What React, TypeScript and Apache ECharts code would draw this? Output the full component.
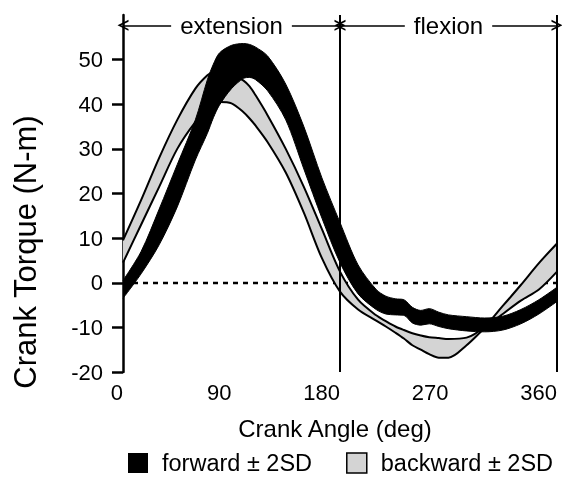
import React, { useEffect, useRef } from "react";
import * as echarts from "echarts";

// Crank angle samples (deg)
const angles = [0, 15, 30, 45, 60, 70, 75, 80, 90, 100, 105, 110, 120, 135, 150, 165, 180, 195, 210, 218, 226, 233, 240, 247, 254, 262, 270, 285, 300, 315, 330, 345, 360];

// Forward pedalling ±2SD band (N-m)
const fwdUpper = [0.5, 7, 16.5, 26.5, 36.5, 45.5, 49, 51.5, 53.2, 53.6, 53.4, 52.8, 50.8, 44.5, 35, 23.5, 13.5, 4, -1.5, -3, -3.6, -3.8, -5.5, -6.2, -5.8, -6.6, -7.2, -7.6, -7.9, -7.5, -6, -3.8, -1];
const fwdLower = [-3.5, 2, 8.5, 17, 27.5, 33.5, 37, 39.8, 43.5, 45.8, 46, 45.5, 43, 36.5, 25.5, 14.5, 4.5, -2.5, -6, -7, -7.2, -7.3, -9, -9.5, -9.2, -9.8, -10.3, -10.8, -11, -10.6, -9.2, -7, -4.2];

// Backward pedalling ±2SD band (N-m)
const bwdUpper = [9.5, 18.5, 28, 36.5, 43.5, 46.5, 47.2, 47.3, 46.8, 45.3, 44, 42, 37.5, 30, 21.5, 12, 2.5, -3.8, -7.3, -8.6, -9.8, -10.6, -11.3, -11.8, -12.2, -12.4, -12.6, -12.3, -9.8, -5.2, -0.5, 4.4, 8.8];
const bwdLower = [4.5, 13, 21.5, 30, 36, 38.7, 39.8, 40.5, 40.2, 38.2, 36.8, 35.2, 31.5, 24.7, 15.7, 5.5, -2, -6, -8.5, -9.8, -11.2, -12.5, -14, -15, -16, -16.8, -16.8, -14, -10.2, -7, -4, -1.5, 2.5];

const xTicks = [0, 90, 180, 270, 360];
const yTicks = [-20, -10, 0, 10, 20, 30, 40, 50];
const phaseBounds = [0, 180, 360];
const phaseNames = ["extension", "flexion"];
const phaseArrowLevel = 57.7;
const legendNames = ["forward \u00b1 2SD", "backward \u00b1 2SD"];
const xTitle = "Crank Angle (deg)";
const yTitle = "Crank Torque (N-m)";

const FONT = "'Liberation Sans', Arial, Helvetica, sans-serif";

export default function App() {
  const ref = useRef<HTMLDivElement>(null);

  useEffect(() => {
    const chart = echarts.init(ref.current as HTMLDivElement, null, { renderer: "svg" });

    // value first, angle second, so that stacking happens on the torque (y) dimension
    const pairs = (vals: number[]) => angles.map((a, i) => [vals[i], a]);
    const diff = (u: number[], l: number[]) => angles.map((a, i) => [+(u[i] - l[i]).toFixed(3), a]);
    const chevron = "path://M0,14 L7,0 L14,14 L11.6,14 L7,4.6 L2.4,14 Z";

    const phaseLines = phaseNames.map((name, i) => [
      {
        coord: [phaseBounds[i], phaseArrowLevel],
        symbol: chevron,
        symbolSize: [11, 11],
        lineStyle: { width: 1.5, color: "#000", type: "solid" },
      },
      {
        coord: [phaseBounds[i + 1], phaseArrowLevel],
        symbol: chevron,
        symbolSize: [11, 11],
        label: {
          show: true,
          formatter: name,
          position: "insideMiddle",
          distance: 0,
          fontSize: 24,
          fontFamily: FONT,
          color: "#000",
          backgroundColor: "#fff",
          padding: [0, 9],
        },
      },
    ]);

    const common = {
      type: "line",
      smooth: 0.3,
      showSymbol: false,
      symbol: "none",
      stackStrategy: "all",
      encode: { x: 1, y: 0 },
      silent: true,
      emphasis: { disabled: true },
    };

    chart.setOption({
      animation: false,
      textStyle: { fontFamily: FONT, color: "#000" },
      grid: { left: 123, right: 5, top: 15, bottom: 109, containLabel: false },
      xAxis: {
        type: "value",
        min: 0,
        max: 360,
        interval: 90,
        axisLine: { show: false },
        axisTick: { show: false },
        splitLine: { show: false },
        axisLabel: {
          customValues: xTicks,
          fontSize: 22,
          color: "#000",
          fontFamily: FONT,
          margin: 9,
          align: "right",
        },
        name: xTitle,
        nameLocation: "middle",
        nameGap: 44,
        nameTextStyle: { fontSize: 24, color: "#000", fontFamily: FONT, padding: [0, 10, 0, 0] },
      },
      yAxis: {
        type: "value",
        min: -20,
        max: 60,
        interval: 10,
        axisLine: { show: true, lineStyle: { color: "#000", width: 2.5 } },
        axisTick: { show: true, customValues: yTicks, length: 11, lineStyle: { color: "#000", width: 2.5 } },
        splitLine: { show: false },
        axisLabel: {
          customValues: yTicks,
          fontSize: 22,
          color: "#000",
          fontFamily: FONT,
          margin: 20,
        },
      },
      legend: {
        data: [
          { name: legendNames[0], itemStyle: { color: "#000", borderWidth: 0 } },
          { name: legendNames[1], itemStyle: { color: "#d4d4d4", borderColor: "#000", borderWidth: 1.5 } },
        ],
        icon: "rect",
        orient: "horizontal",
        left: 128,
        top: 451,
        width: 434,
        padding: 0,
        itemWidth: 20,
        itemHeight: 20,
        itemGap: 34,
        selectedMode: false,
        textStyle: { fontSize: 23.5, color: "#000", fontFamily: FONT, padding: [0, 0, 0, 9] },
      },
      graphic: [
        {
          type: "text",
          x: 25,
          y: 252,
          rotation: Math.PI / 2,
          style: {
            text: yTitle,
            fontSize: 31,
            fontFamily: FONT,
            fill: "#000",
            align: "center",
            verticalAlign: "middle",
          },
        },
      ],
      series: [
        {
          type: "line",
          name: "zeroGuide",
          data: [],
          silent: true,
          markLine: {
            silent: true,
            z: 1,
            symbol: "none",
            label: { show: false },
            lineStyle: { color: "#000", width: 2.4, type: [5, 5] },
            data: [{ yAxis: 0 }],
          },
        },
        {
          ...common,
          name: "bwdBase",
          stack: "bwd",
          z: 3,
          data: pairs(bwdLower),
          lineStyle: { color: "#000", width: 2 },
        },
        {
          ...common,
          name: legendNames[1],
          stack: "bwd",
          z: 2,
          color: "#d4d4d4",
          data: diff(bwdUpper, bwdLower),
          lineStyle: { color: "#000", width: 2 },
          areaStyle: { color: "#d4d4d4", opacity: 1 },
        },
        {
          ...common,
          name: "fwdBase",
          stack: "fwd",
          z: 4,
          data: pairs(fwdLower),
          lineStyle: { color: "#000", width: 1 },
        },
        {
          ...common,
          name: legendNames[0],
          stack: "fwd",
          z: 4,
          color: "#000",
          data: diff(fwdUpper, fwdLower),
          lineStyle: { color: "#000", width: 1 },
          areaStyle: { color: "#000", opacity: 1 },
        },
        {
          type: "line",
          name: "phaseGuide",
          data: [],
          silent: true,
          markLine: {
            silent: true,
            z: 10,
            symbol: "none",
            label: { show: false },
            lineStyle: { color: "#000", width: 2, type: "solid" },
            data: [{ xAxis: phaseBounds[1] }, { xAxis: phaseBounds[2] }, ...phaseLines],
          },
        },
      ],
    });

    return () => chart.dispose();
  }, []);

  return <div ref={ref} style={{ position: "fixed", left: 0, top: 0, width: 562, height: 481 }} />;
}
